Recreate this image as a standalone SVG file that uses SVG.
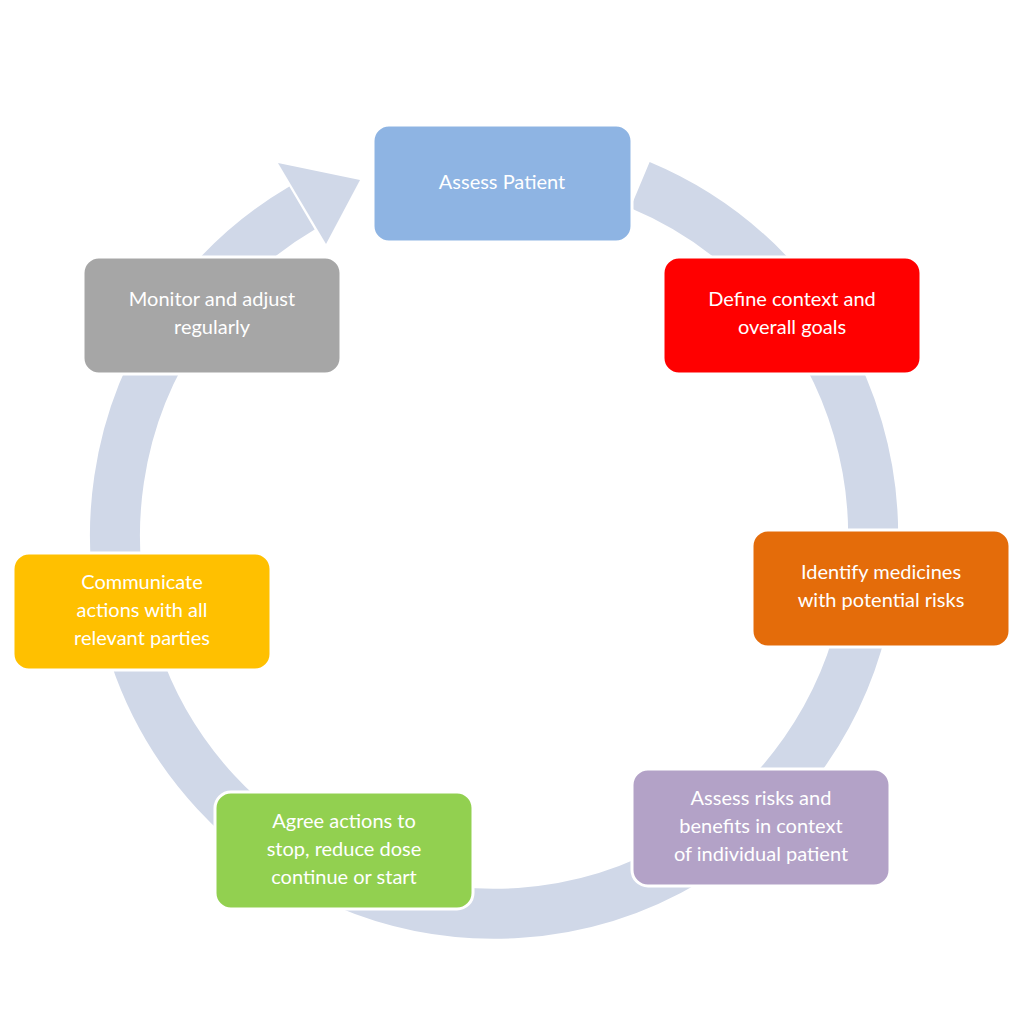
<svg xmlns="http://www.w3.org/2000/svg" width="1024" height="1024" viewBox="0 0 1024 1024">
<style>
.b{stroke:#fff;stroke-width:3}
.t{fill:#fff;font-family:Lato,"Open Sans",sans-serif;font-size:20px;text-anchor:middle}
</style>
<rect width="1024" height="1024" fill="#fff"/>
<g id="connectors">
<path d="M640,185 A379,379 0 1 1 302,208" fill="none" stroke="#D0D8E8" stroke-width="50"/>
<polygon points="278,163 360,180 326,244" fill="#D0D8E8"/>
</g>
<g id="n1"><rect class="b" x="373" y="125" width="259" height="117" rx="16" fill="#8EB4E3"/><text class="t" x="502" y="189">Assess Patient</text></g>
<g id="n2"><rect class="b" x="663" y="257" width="258" height="117" rx="16" fill="#FF0000"/><text class="t" x="792" y="306">Define context and</text><text class="t" x="792" y="334">overall goals</text></g>
<g id="n3"><rect class="b" x="752" y="530" width="258" height="117" rx="16" fill="#E46C0A"/><text class="t" x="881" y="579">Identify medicines</text><text class="t" x="881" y="607">with potential risks</text></g>
<g id="n4"><rect class="b" x="632" y="769" width="258" height="117" rx="16" fill="#B3A2C7"/><text class="t" x="761" y="805">Assess risks and</text><text class="t" x="761" y="833">benefits in context</text><text class="t" x="761" y="861">of individual patient</text></g>
<g id="n5"><rect class="b" x="215" y="792" width="258" height="117" rx="16" fill="#92D050"/><text class="t" x="344" y="828">Agree actions to</text><text class="t" x="344" y="856">stop, reduce dose</text><text class="t" x="344" y="884">continue or start</text></g>
<g id="n6"><rect class="b" x="13" y="553" width="258" height="117" rx="16" fill="#FFC000"/><text class="t" x="142" y="589">Communicate</text><text class="t" x="142" y="617">actions with all</text><text class="t" x="142" y="645">relevant parties</text></g>
<g id="n7"><rect class="b" x="83" y="257" width="258" height="117" rx="16" fill="#A6A6A6"/><text class="t" x="212" y="306">Monitor and adjust</text><text class="t" x="212" y="334">regularly</text></g>
</svg>
